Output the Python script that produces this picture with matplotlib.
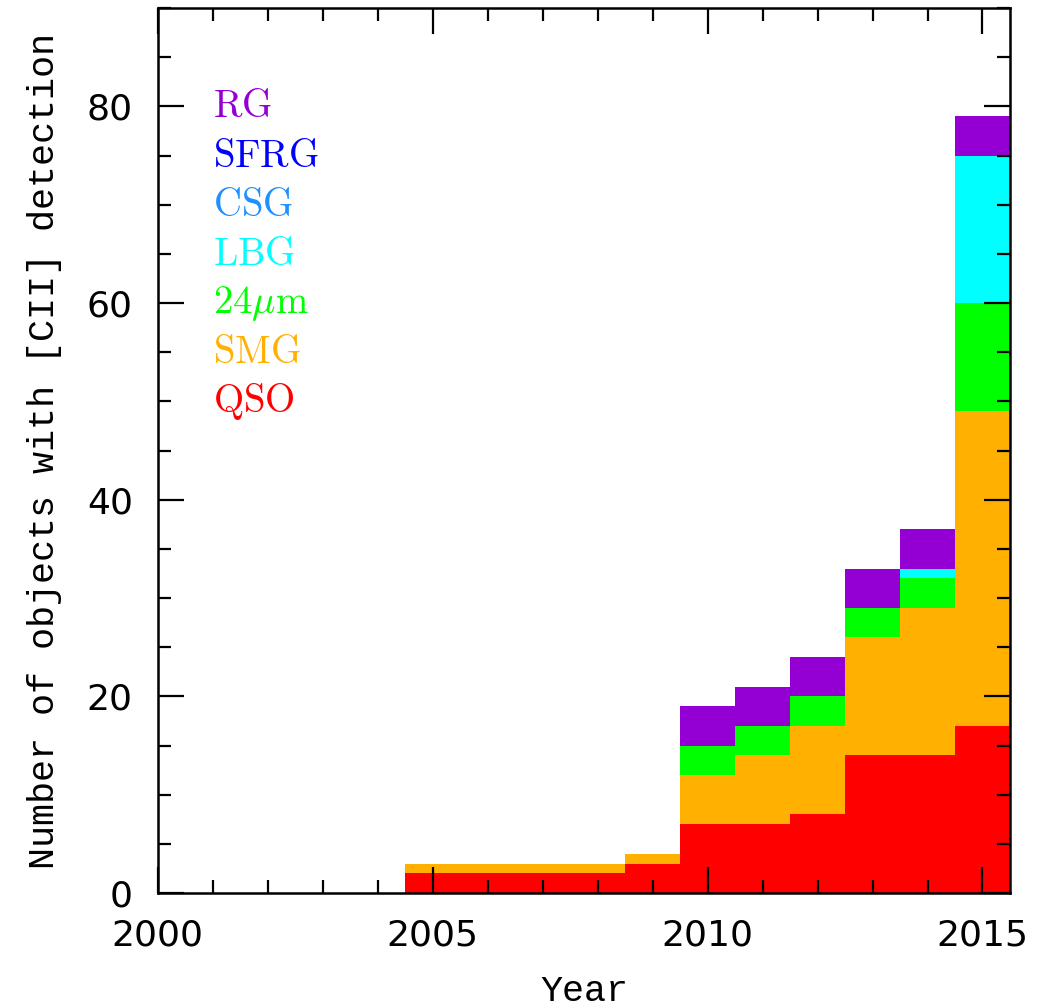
import numpy as np
import matplotlib
matplotlib.use('Agg')
from matplotlib import pyplot as plt

plt.rcParams['font.family'] = ['DejaVu Sans']
plt.rcParams['mathtext.fontset'] = 'cm'

years = [2005, 2006, 2007, 2008, 2009, 2010, 2011, 2012, 2013, 2014, 2015]
# number added per class, stacked from bottom (QSO) to top (RG)
qso  = [2, 2, 2, 2, 3, 7, 7, 8, 14, 14, 17]
smg  = [1, 1, 1, 1, 1, 5, 7, 9, 12, 15, 32]
mu24 = [0, 0, 0, 0, 0, 3, 3, 3, 3, 3, 11]
lbg  = [0, 0, 0, 0, 0, 0, 0, 0, 0, 1, 15]
csg  = [0, 0, 0, 0, 0, 0, 0, 0, 0, 0, 0]
sfrg = [0, 0, 0, 0, 0, 0, 0, 0, 0, 0, 0]
rg   = [0, 0, 0, 0, 0, 4, 4, 4, 4, 4, 4]

labels = [r'$\mathrm{QSO}$', r'$\mathrm{SMG}$', r'$24\mu\mathrm{m}$', r'$\mathrm{LBG}$',
          r'$\mathrm{CSG}$', r'$\mathrm{SFRG}$', r'$\mathrm{RG}$']
colors = ['#ff0000', '#ffb000', '#00ff00', '#00ffff', '#1e90ff', '#0000ff', '#9400d3']
series = [qso, smg, mu24, lbg, csg, sfrg, rg]

fig = plt.figure(figsize=(10.38, 10.08), dpi=100)
ax = fig.add_axes([0.152, 0.114, 0.821, 0.878])

edges = np.append(np.array(years) - 0.5, years[-1] + 0.5)
base = np.zeros(len(years))
for vals, c in zip(series, colors):
    top = base + np.array(vals)
    if np.any(top > base):
        ax.stairs(top, edges, baseline=base, fill=True, color=c, lw=0)
    base = top

# class labels, top to bottom
for i, (lab, c) in enumerate(zip(labels[::-1], colors[::-1])):
    ax.text(2001.0, 80 - 5 * i, lab, color=c, fontsize=28, va='center', ha='left')

ax.set_xlim(2000, 2015.5)
ax.set_ylim(0, 90)
ax.set_xticks([2000, 2005, 2010, 2015])
ax.set_xticks(np.arange(2000, 2016, 1), minor=True)
ax.set_yticks([0, 20, 40, 60, 80])
ax.set_yticks(np.arange(0, 91, 5), minor=True)
ax.tick_params(which='both', direction='in', top=True, right=True, width=1.6, labelsize=26)
ax.tick_params(which='major', length=19, pad=18)
ax.tick_params(which='minor', length=9.5)
for s in ax.spines.values():
    s.set_linewidth(1.8)

ax.set_xlabel('Year', fontsize=26.5, family='Liberation Mono', labelpad=16)
ax.set_ylabel('Number of objects with [CII] detection', fontsize=26.5,
              family='Liberation Mono', labelpad=18)

plt.savefig('out.png', dpi=100)
